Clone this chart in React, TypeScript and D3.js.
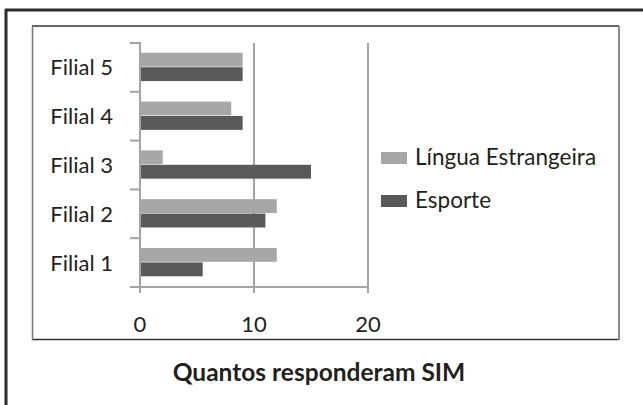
import React from 'react'
import * as d3 from 'd3'

const categories = ['Filial 5', 'Filial 4', 'Filial 3', 'Filial 2', 'Filial 1']
const lingua = [9, 8, 2, 12, 12]
const esporte = [9, 9, 15, 11, 5.5]
const seriesNames = ['Língua Estrangeira', 'Esporte']
const seriesColors = ['#a7a7a9', '#58595b']
const xTicks = [0, 10, 20]

const font = 'Lato, "Open Sans", sans-serif'

const App = () => {
  const xScale = d3.scaleLinear().domain([0, 20]).range([140, 368])
  const yScale = d3.scaleBand().domain(categories).range([43, 287]).padding(0)
  const bw = yScale.bandwidth()
  const sub = d3.scaleBand().domain(seriesNames).range([bw * 0.2, bw * 0.78]).paddingInner(0.04)
  const values = [lingua, esporte]

  const edges = [...categories.map(c => yScale(c) as number), 287]

  return (
    <svg width={643} height={405} style={{ position: 'absolute', left: 0, top: 0, background: '#fff' }}>
      {/* outer frame: top and left only */}
      <line x1={5} x2={643} y1={10} y2={10} stroke='#2b2b2b' strokeWidth={3} />
      <line x1={6} x2={6} y1={9} y2={405} stroke='#2b2b2b' strokeWidth={3} />
      {/* inner chart box */}
      <line x1={32} x2={619} y1={26} y2={26} stroke='#333' strokeWidth={1.5} />
      <line x1={32} x2={619} y1={339.5} y2={339.5} stroke='#333' strokeWidth={1.5} />
      <line x1={32.5} x2={32.5} y1={26} y2={340} stroke='#777' strokeWidth={1.5} />
      <line x1={619} x2={619} y1={26} y2={340} stroke='#8a8a8a' strokeWidth={2} />

      {/* gridlines */}
      {xTicks.slice(1).map(t => (
        <line key={t} x1={xScale(t)} x2={xScale(t)} y1={43} y2={293} stroke='#a3a3a3' strokeWidth={2} />
      ))}

      {/* bars */}
      {categories.map((c, i) => (
        <g key={c} transform={`translate(0, ${yScale(c)})`}>
          {seriesNames.map((s, j) => (
            <rect
              key={s}
              x={xScale(0)}
              y={sub(s)}
              width={xScale(values[j][i]) - xScale(0)}
              height={sub.bandwidth()}
              fill={seriesColors[j]}
            />
          ))}
        </g>
      ))}

      {/* y axis */}
      <line x1={140} x2={140} y1={42} y2={293} stroke='#a3a3a3' strokeWidth={2} />
      {edges.map((e, i) => (
        <line key={i} x1={130} x2={140} y1={e} y2={e} stroke='#a3a3a3' strokeWidth={2} />
      ))}
      {categories.map(c => (
        <text key={c} x={113} y={(yScale(c) as number) + bw / 2} dy='0.36em' textAnchor='end'
          fontFamily={font} fontSize={22} fill='#231f20'>{c}</text>
      ))}

      {/* x axis */}
      <line x1={130} x2={369} y1={287} y2={287} stroke='#a3a3a3' strokeWidth={2} />
      {xTicks.map(t => (
        <g key={t}>
          <line x1={xScale(t)} x2={xScale(t)} y1={287} y2={293} stroke='#a3a3a3' strokeWidth={2} />
          <text x={xScale(t)} y={332} textAnchor='middle' fontFamily={font} fontSize={22} fill='#231f20'>{t}</text>
        </g>
      ))}

      {/* legend */}
      {seriesNames.map((s, j) => (
        <g key={s} transform={`translate(381, ${152 + j * 43})`}>
          <rect x={0} y={0} width={26} height={12} fill={seriesColors[j]} />
          <text x={34} y={13} fontFamily={font} fontSize={22.5} fill='#231f20'>{s}</text>
        </g>
      ))}

      {/* title */}
      <text x={319} y={381} textAnchor='middle' fontFamily={font} fontWeight='bold' fontSize={24.5} fill='#231f20'>
        Quantos responderam SIM
      </text>
    </svg>
  )
}

export default App
